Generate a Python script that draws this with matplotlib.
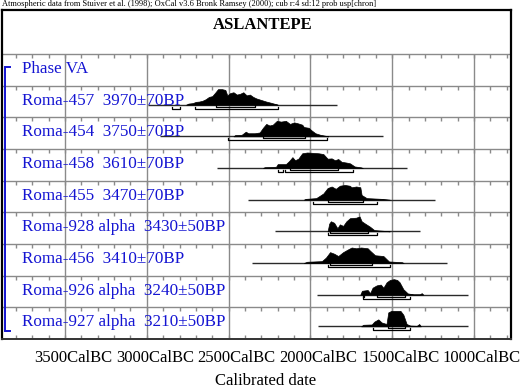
import matplotlib
matplotlib.use('Agg')
import matplotlib.pyplot as plt
from matplotlib.transforms import ScaledTranslation, blended_transform_factory
import numpy as np

plt.rcParams['font.family'] = ['Liberation Serif', 'DejaVu Serif']

# ---------------- data ----------------
header = ("Atmospheric data from Stuiver et al. (1998); OxCal v3.6 Bronk Ramsey (2000); "
          "cub r:4 sd:12 prob usp[chron]")
title = "ASLANTEPE"
phase = "Phase VA"
names = ["Roma-457", "Roma-454", "Roma-458", "Roma-455",
         "Roma-928 alpha", "Roma-456", "Roma-926 alpha", "Roma-927 alpha"]
bp = [3970, 3750, 3610, 3470, 3430, 3410, 3240, 3210]
err = [70, 70, 70, 70, 50, 70, 50, 50]

# posterior distributions (calendar years BC, relative probability)
d457_y = [2760, 2745, 2720, 2700, 2680, 2660, 2640, 2620, 2600, 2580, 2565, 2540, 2520, 2508,
          2490, 2470, 2450, 2430, 2410, 2390, 2370, 2350, 2330, 2300, 2270, 2240, 2210, 2200]
d457_p = [0, 0.07, 0.1, 0.18, 0.2, 0.25, 0.35, 0.5, 0.55, 0.8, 1.0, 1.0, 0.95, 0.6,
          0.75, 0.8, 0.65, 0.7, 0.8, 0.6, 0.65, 0.5, 0.4, 0.3, 0.2, 0.12, 0.03, 0]
d454_y = [2470, 2460, 2420, 2395, 2380, 2340, 2310, 2290, 2270, 2250, 2230, 2205, 2180, 2150,
          2125, 2100, 2080, 2050, 2040, 2010, 1995, 1970, 1940, 1900, 1890]
d454_p = [0, 0.08, 0.1, 0.3, 0.2, 0.2, 0.25, 0.55, 0.8, 0.7, 0.75, 1.0, 0.95, 1.0,
          0.8, 0.9, 0.85, 0.75, 0.6, 0.55, 0.4, 0.2, 0.1, 0.02, 0]
d458_y = [2290, 2280, 2210, 2200, 2150, 2130, 2110, 2094, 2074, 2050, 2020, 1990, 1950, 1921,
          1895, 1870, 1850, 1830, 1810, 1780, 1758, 1730, 1690, 1680]
d458_p = [0, 0.05, 0.08, 0.25, 0.25, 0.45, 0.7, 0.5, 0.6, 0.95, 1.0, 0.98, 0.95, 0.9,
          0.6, 0.62, 0.5, 0.58, 0.4, 0.35, 0.3, 0.1, 0.04, 0]
d455_y = [2040, 2030, 1965, 1950, 1921, 1895, 1870, 1845, 1820, 1790, 1760, 1748, 1720, 1695,
          1687, 1656, 1560, 1515]
d455_p = [0, 0.05, 0.1, 0.2, 0.4, 0.75, 0.85, 0.7, 0.9, 0.95, 0.9, 0.8, 0.85, 0.8,
          0.3, 0.1, 0.05, 0]
d928_y = [1895, 1885, 1875, 1855, 1835, 1820, 1800, 1780, 1758, 1720, 1700, 1687, 1666, 1636,
          1610, 1560, 1515]
d928_p = [0, 0.5, 0.65, 0.55, 0.2, 0.45, 0.35, 0.65, 0.85, 0.88, 0.97, 0.65, 0.5, 0.3,
          0.08, 0.04, 0]
d456_y = [2040, 2020, 1930, 1905, 1880, 1855, 1830, 1800, 1775, 1748, 1720, 1690, 1650, 1636,
          1605, 1554, 1520, 1440, 1430]
d456_p = [0, 0.08, 0.12, 0.35, 0.7, 0.6, 0.45, 0.7, 0.85, 1.0, 0.95, 1.0, 0.95, 0.8,
          0.5, 0.45, 0.1, 0.05, 0]
d926_y = [1695, 1685, 1650, 1635, 1620, 1595, 1570, 1554, 1534, 1514, 1490, 1470, 1455, 1432,
          1405, 1370, 1330, 1320, 1310]
d926_p = [0, 0.25, 0.3, 0.1, 0.45, 0.6, 0.65, 0.45, 0.8, 0.95, 1.0, 0.95, 0.8, 0.35,
          0.08, 0.02, 0.02, 0.1, 0]
d927_y = [1690, 1677, 1625, 1610, 1585, 1565, 1535, 1524, 1505, 1450, 1432, 1412, 1390, 1350,
          1335, 1325]
d927_p = [0, 0.1, 0.12, 0.3, 0.45, 0.25, 0.15, 0.9, 1.0, 1.0, 0.75, 0.15, 0.05, 0.03,
          0.15, 0]

dist_years = [d457_y, d454_y, d458_y, d455_y, d928_y, d456_y, d926_y, d927_y]
dist_probs = [d457_p, d454_p, d458_p, d455_p, d928_p, d456_p, d926_p, d927_p]

# extent of the thin line under each distribution (BC)
line_from = [2990, 2919, 2573, 2381, 2216, 2359, 1962, 1952]
line_to = [1840, 1556, 1412, 1239, 1330, 1167, 1035, 1035]

# ranges (BC): 68.2% and 95.4%
range68 = [[(2577, 2339)], [(2290, 2033)], [(2125, 1830)], [(1893, 1679)],
           [(1880, 1648)], [(1880, 1626)], [(1680, 1670), (1595, 1422)], [(1524, 1422)]]
range95 = [[(2846, 2797), (2705, 2198)], [(2504, 1899)], [(2198, 2168), (2155, 1740)],
           [(1982, 1595)], [(1891, 1595)], [(1891, 1514)], [(1678, 1391)], [(1616, 1391)]]

major_years = [3500, 3000, 2500, 2000, 1500, 1000]
minor_years = list(range(3800, 700, -100))
xlabel = "Calibrated date"

# ---------------- layout ----------------
W, H = 522, 390
fig = plt.figure(figsize=(W / 100, H / 100), dpi=100)
left_px, right_px, top_px, bot_px = 2, 511, 10, 339
ax = fig.add_axes([left_px / W, (H - bot_px) / H, (right_px - left_px) / W, (bot_px - top_px) / H])
u = 285 / 9.0  # pixels per row
ax.set_xlim(-3885, -774)
ax.set_ylim(0, (bot_px - top_px) / u)
nrow = 9

grid_c = '#8a8a8a'
for yy in range(1, nrow + 1):
    ax.axhline(yy, color=grid_c, lw=1.0, zorder=1)
    ax.vlines([-m for m in minor_years], yy - 4 / u, yy, color=grid_c, lw=1.0, zorder=1)
ax.vlines([-m for m in minor_years], 0, 4 / u, color=grid_c, lw=1.0, zorder=1)
ax.vlines([-m for m in major_years], 0, nrow, color=grid_c, lw=1.0, zorder=1)

bt = blended_transform_factory(ax.transAxes, ax.transData)
blue = '#1414d2'
lab_fs = 12.3

# phase label and bracket
ax.text(20 / 509, nrow - 0.47, phase, transform=bt, color=blue, fontsize=lab_fs, va='center')
ytop_b = (bot_px - 67) / u
ybot_b = (bot_px - 331) / u
ax.plot([8 / 509, 3 / 509, 3 / 509, 8 / 509], [ytop_b, ytop_b, ybot_b, ybot_b],
        transform=bt, color=blue, lw=1.4, zorder=3, solid_joinstyle='miter')

for k in range(8):
    top = nrow - 1 - k
    base = top - 19 / u
    yrs = -np.array(dist_years[k], dtype=float)
    pr = np.array(dist_probs[k], dtype=float)
    ax.hlines(base, -line_from[k], -line_to[k], color='#2a2a2a', lw=1.0, zorder=2)
    ax.fill_between(yrs, base, base + pr * 15.5 / u, color='black', lw=0.5, zorder=3)
    y68 = base - 2 / u
    y95 = base - 4 / u
    for a, b in range68[k]:
        ax.plot([-a, -a, -b, -b], [base, y68, y68, base], color='black', lw=0.9, zorder=3)
    for a, b in range95[k]:
        ax.plot([-a, -a, -b, -b], [y68, y95, y95, y68], color='black', lw=0.9, zorder=3)
    label = f"{names[k]}  {bp[k]}\u00b1{err[k]}BP"
    ax.text(20 / 509, top - 0.47, label, transform=bt, color=blue, fontsize=lab_fs,
            va='center', zorder=4)

ax.text((263 - left_px) / 509, (bot_px - 25) / u, title, transform=bt, ha='center', va='center',
        fontsize=12, fontweight='bold')

ax.set_yticks([])
ax.set_xticks([-m for m in major_years])
ax.set_xticklabels([f"{m}CalBC" for m in major_years], fontsize=12)
ax.tick_params(axis='x', length=0, pad=8)
for lab in ax.get_xticklabels():
    lab.set_transform(lab.get_transform() + ScaledTranslation(8 / 100, 0, fig.dpi_scale_trans))

for s in ['left', 'right', 'top']:
    ax.spines[s].set_color('black')
    ax.spines[s].set_linewidth(1.6)
ax.spines['bottom'].set_color('#333333')
ax.spines['bottom'].set_linewidth(1.4)

fig.text(2 / W, 1 - 4.5 / H, header, fontsize=6, va='center', ha='left')
fig.text(266 / W, 1 - 381 / H, xlabel, fontsize=12, ha='center', va='center')

fig.savefig('out.png', dpi=100)
